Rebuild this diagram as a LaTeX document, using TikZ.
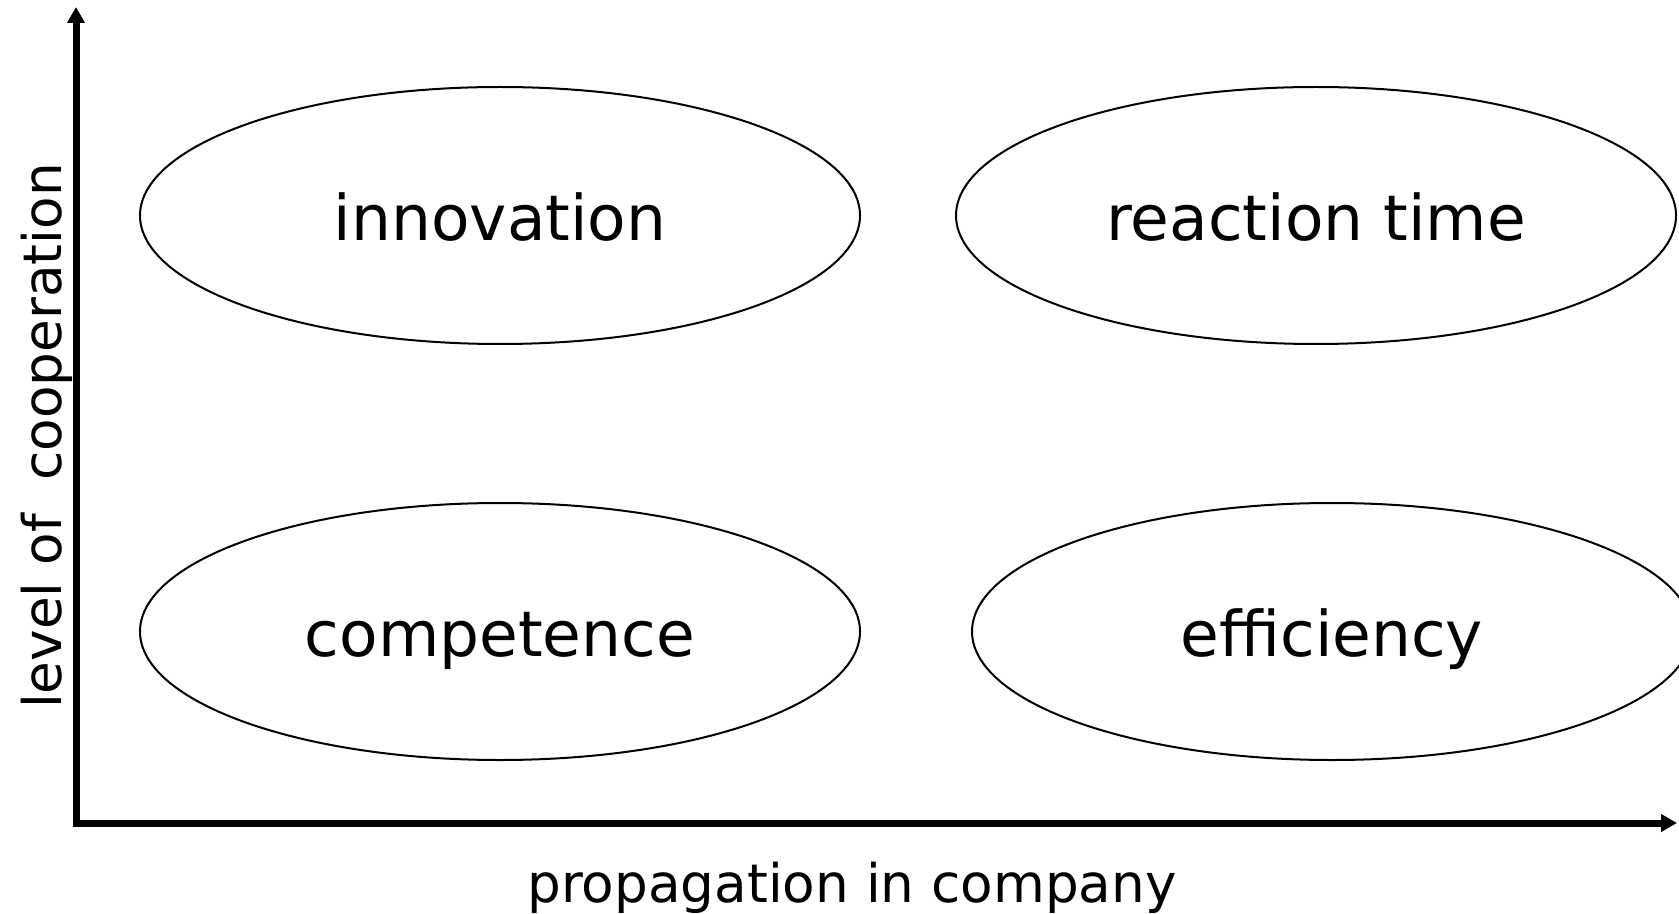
\documentclass[tikz,border=0pt]{standalone}
\usepackage{fontspec}
\setmainfont{DejaVu Sans}
\usetikzlibrary{arrows.meta,shapes.geometric}
\begin{document}
\begin{tikzpicture}[x=0.5pt,y=-0.5pt,
  field/.style={ellipse,draw,line width=1pt,minimum width=360pt,minimum height=128.5pt,inner sep=0pt,text height=25pt,text depth=0pt,font=\fontsize{31.5}{37}\selectfont},
  axis/.style={line width=3.5pt,{Triangle[length=8pt,width=8.5pt]}-{Triangle[length=8pt,width=8.5pt]}},
  axislabel/.style={font=\fontsize{26.6}{32}\selectfont,inner sep=0pt}]
\useasboundingbox (0,0) rectangle (1679,914);
\coordinate (o) at (76,823);
\coordinate (ytip) at (76,7);
\coordinate (xtip) at (1677,823);
\draw[axis] (ytip) -- (o) -- (xtip);
\node[field] (inn) at (500,215.5) {innovation};
\node[field] (rea) at (1316,215.5) {reaction time};
\node[field] (com) at (500,631.5) {competence};
\node[field] (eff) at (1332,631.5) {efficiency};
\node[axislabel] (xl) at (852,888) {propagation in company};
\node[axislabel,rotate=90] (yl) at (47,436) {level of \ cooperation};
\end{tikzpicture}
\end{document}
